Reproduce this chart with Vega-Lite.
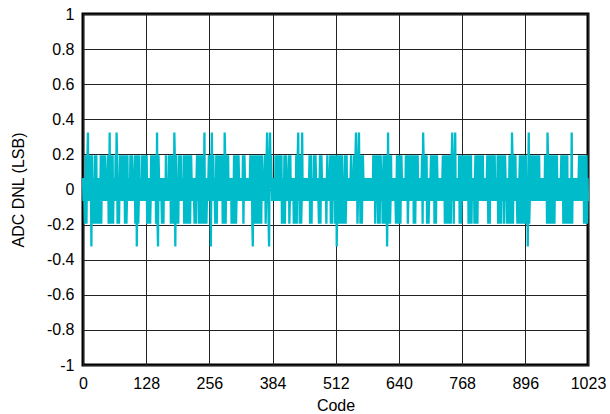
{
"$schema": "https://vega.github.io/schema/vega-lite/v6.json",
"width": 505, "height": 351,
"autosize": {"type": "none"},
"padding": {"left": 83, "top": 14, "right": 22, "bottom": 49},
"background": "white",
"config": {"view": {"stroke": "#000", "strokeWidth": 3}, "font": "Liberation Sans"},
"data": {"values": [
{"c":0,"v":0.065},{"c":1,"v":-0.065},{"c":2,"v":0.065},{"c":3,"v":-0.065},{"c":4,"v":-0.195},{"c":5,"v":-0.065},{"c":6,"v":0.195},{"c":7,"v":-0.195},{"c":8,"v":0.065},{"c":9,"v":0.195},
{"c":10,"v":0.325},{"c":11,"v":-0.065},{"c":12,"v":0.195},{"c":13,"v":-0.065},{"c":14,"v":0.065},{"c":15,"v":0.195},{"c":16,"v":0.065},{"c":17,"v":-0.325},{"c":18,"v":0.195},{"c":19,"v":-0.065},
{"c":20,"v":0.065},{"c":21,"v":-0.065},{"c":22,"v":-0.195},{"c":23,"v":-0.065},{"c":24,"v":0.195},{"c":25,"v":-0.195},{"c":26,"v":0.065},{"c":27,"v":0.195},{"c":28,"v":-0.195},{"c":29,"v":-0.065},
{"c":30,"v":0.065},{"c":31,"v":-0.195},{"c":32,"v":0.065},{"c":33,"v":-0.065},{"c":34,"v":-0.195},{"c":35,"v":-0.065},{"c":36,"v":0.195},{"c":37,"v":-0.195},{"c":38,"v":0.065},{"c":39,"v":0.195},
{"c":40,"v":0.065},{"c":41,"v":-0.065},{"c":42,"v":0.195},{"c":43,"v":-0.065},{"c":44,"v":0.065},{"c":45,"v":0.195},{"c":46,"v":0.065},{"c":47,"v":-0.065},{"c":48,"v":0.065},{"c":49,"v":-0.065},
{"c":50,"v":0.065},{"c":51,"v":0.195},{"c":52,"v":-0.195},{"c":53,"v":-0.065},{"c":54,"v":0.325},{"c":55,"v":-0.195},{"c":56,"v":0.065},{"c":57,"v":0.195},{"c":58,"v":-0.195},{"c":59,"v":-0.065},
{"c":60,"v":0.195},{"c":61,"v":-0.195},{"c":62,"v":0.065},{"c":63,"v":-0.065},{"c":64,"v":0.065},{"c":65,"v":-0.065},{"c":66,"v":0.195},{"c":67,"v":-0.065},{"c":68,"v":0.325},{"c":69,"v":0.195},
{"c":70,"v":-0.195},{"c":71,"v":-0.065},{"c":72,"v":0.065},{"c":73,"v":-0.195},{"c":74,"v":0.065},{"c":75,"v":0.195},{"c":76,"v":0.065},{"c":77,"v":-0.065},{"c":78,"v":0.195},{"c":79,"v":-0.065},
{"c":80,"v":0.065},{"c":81,"v":0.195},{"c":82,"v":0.065},{"c":83,"v":-0.065},{"c":84,"v":0.195},{"c":85,"v":-0.195},{"c":86,"v":0.065},{"c":87,"v":0.195},{"c":88,"v":-0.195},{"c":89,"v":-0.065},
{"c":90,"v":0.195},{"c":91,"v":-0.065},{"c":92,"v":0.065},{"c":93,"v":-0.065},{"c":94,"v":0.065},{"c":95,"v":-0.065},{"c":96,"v":0.195},{"c":97,"v":-0.065},{"c":98,"v":0.065},{"c":99,"v":0.195},
{"c":100,"v":0.065},{"c":101,"v":-0.065},{"c":102,"v":0.065},{"c":103,"v":-0.065},{"c":104,"v":0.065},{"c":105,"v":0.195},{"c":106,"v":-0.195},{"c":107,"v":-0.065},{"c":108,"v":0.195},{"c":109,"v":-0.325},
{"c":110,"v":0.065},{"c":111,"v":0.195},{"c":112,"v":-0.195},{"c":113,"v":-0.065},{"c":114,"v":0.195},{"c":115,"v":-0.065},{"c":116,"v":0.065},{"c":117,"v":-0.065},{"c":118,"v":0.065},{"c":119,"v":-0.065},
{"c":120,"v":0.195},{"c":121,"v":-0.065},{"c":122,"v":0.065},{"c":123,"v":0.195},{"c":124,"v":0.065},{"c":125,"v":-0.065},{"c":126,"v":0.195},{"c":127,"v":-0.065},{"c":128,"v":0.065},{"c":129,"v":0.195},
{"c":130,"v":-0.195},{"c":131,"v":-0.065},{"c":132,"v":0.065},{"c":133,"v":-0.195},{"c":134,"v":0.065},{"c":135,"v":-0.065},{"c":136,"v":-0.195},{"c":137,"v":-0.065},{"c":138,"v":0.195},{"c":139,"v":-0.065},
{"c":140,"v":0.065},{"c":141,"v":0.195},{"c":142,"v":0.065},{"c":143,"v":-0.065},{"c":144,"v":0.195},{"c":145,"v":-0.065},{"c":146,"v":0.065},{"c":147,"v":0.195},{"c":148,"v":-0.195},{"c":149,"v":-0.065},
{"c":150,"v":0.325},{"c":151,"v":-0.195},{"c":152,"v":-0.325},{"c":153,"v":0.195},{"c":154,"v":0.065},{"c":155,"v":-0.065},{"c":156,"v":0.065},{"c":157,"v":-0.065},{"c":158,"v":0.065},{"c":159,"v":-0.065},
{"c":160,"v":-0.195},{"c":161,"v":-0.065},{"c":162,"v":0.065},{"c":163,"v":-0.195},{"c":164,"v":0.065},{"c":165,"v":-0.065},{"c":166,"v":0.065},{"c":167,"v":-0.065},{"c":168,"v":0.195},{"c":169,"v":-0.065},
{"c":170,"v":0.065},{"c":171,"v":-0.065},{"c":172,"v":0.065},{"c":173,"v":-0.065},{"c":174,"v":0.195},{"c":175,"v":-0.065},{"c":176,"v":0.065},{"c":177,"v":0.195},{"c":178,"v":-0.195},{"c":179,"v":-0.065},
{"c":180,"v":0.195},{"c":181,"v":-0.195},{"c":182,"v":0.065},{"c":183,"v":0.195},{"c":184,"v":-0.195},{"c":185,"v":0.325},{"c":186,"v":0.195},{"c":187,"v":-0.325},{"c":188,"v":0.065},{"c":189,"v":0.195},
{"c":190,"v":-0.195},{"c":191,"v":-0.065},{"c":192,"v":0.065},{"c":193,"v":-0.195},{"c":194,"v":0.065},{"c":195,"v":0.195},{"c":196,"v":0.065},{"c":197,"v":-0.065},{"c":198,"v":0.195},{"c":199,"v":-0.065},
{"c":200,"v":0.065},{"c":201,"v":-0.065},{"c":202,"v":0.065},{"c":203,"v":-0.065},{"c":204,"v":0.195},{"c":205,"v":-0.195},{"c":206,"v":0.065},{"c":207,"v":0.195},{"c":208,"v":-0.195},{"c":209,"v":-0.065},
{"c":210,"v":0.195},{"c":211,"v":-0.195},{"c":212,"v":0.065},{"c":213,"v":0.195},{"c":214,"v":-0.195},{"c":215,"v":-0.065},{"c":216,"v":0.195},{"c":217,"v":-0.195},{"c":218,"v":0.065},{"c":219,"v":0.195},
{"c":220,"v":0.065},{"c":221,"v":-0.065},{"c":222,"v":0.065},{"c":223,"v":-0.065},{"c":224,"v":0.065},{"c":225,"v":-0.065},{"c":226,"v":-0.195},{"c":227,"v":-0.065},{"c":228,"v":0.065},{"c":229,"v":-0.195},
{"c":230,"v":0.065},{"c":231,"v":0.195},{"c":232,"v":0.065},{"c":233,"v":-0.065},{"c":234,"v":0.195},{"c":235,"v":-0.195},{"c":236,"v":0.065},{"c":237,"v":0.195},{"c":238,"v":-0.195},{"c":239,"v":-0.065},
{"c":240,"v":0.195},{"c":241,"v":-0.195},{"c":242,"v":0.065},{"c":243,"v":0.195},{"c":244,"v":-0.195},{"c":245,"v":-0.065},{"c":246,"v":0.325},{"c":247,"v":-0.195},{"c":248,"v":0.065},{"c":249,"v":-0.065},
{"c":250,"v":-0.195},{"c":251,"v":-0.065},{"c":252,"v":0.065},{"c":253,"v":-0.065},{"c":254,"v":0.065},{"c":255,"v":0.195},{"c":256,"v":0.065},{"c":257,"v":-0.065},{"c":258,"v":0.195},{"c":259,"v":-0.325},
{"c":260,"v":0.065},{"c":261,"v":0.325},{"c":262,"v":0.065},{"c":263,"v":-0.065},{"c":264,"v":0.195},{"c":265,"v":-0.065},{"c":266,"v":0.065},{"c":267,"v":-0.065},{"c":268,"v":-0.195},{"c":269,"v":-0.065},
{"c":270,"v":0.195},{"c":271,"v":-0.195},{"c":272,"v":0.065},{"c":273,"v":0.195},{"c":274,"v":0.065},{"c":275,"v":-0.065},{"c":276,"v":0.195},{"c":277,"v":-0.065},{"c":278,"v":0.065},{"c":279,"v":0.195},
{"c":280,"v":0.065},{"c":281,"v":-0.065},{"c":282,"v":0.195},{"c":283,"v":-0.195},{"c":284,"v":0.065},{"c":285,"v":0.195},{"c":286,"v":-0.195},{"c":287,"v":0.325},{"c":288,"v":0.195},{"c":289,"v":-0.195},
{"c":290,"v":0.065},{"c":291,"v":0.195},{"c":292,"v":0.065},{"c":293,"v":-0.065},{"c":294,"v":0.195},{"c":295,"v":-0.065},{"c":296,"v":0.065},{"c":297,"v":-0.065},{"c":298,"v":0.065},{"c":299,"v":-0.065},
{"c":300,"v":0.065},{"c":301,"v":-0.195},{"c":302,"v":0.065},{"c":303,"v":-0.065},{"c":304,"v":-0.195},{"c":305,"v":-0.065},{"c":306,"v":0.195},{"c":307,"v":-0.195},{"c":308,"v":0.065},{"c":309,"v":0.195},
{"c":310,"v":-0.195},{"c":311,"v":-0.065},{"c":312,"v":0.195},{"c":313,"v":-0.065},{"c":314,"v":0.065},{"c":315,"v":0.195},{"c":316,"v":0.065},{"c":317,"v":-0.065},{"c":318,"v":0.065},{"c":319,"v":-0.065},
{"c":320,"v":0.065},{"c":321,"v":-0.065},{"c":322,"v":0.065},{"c":323,"v":-0.065},{"c":324,"v":0.195},{"c":325,"v":-0.195},{"c":326,"v":0.065},{"c":327,"v":0.195},{"c":328,"v":0.065},{"c":329,"v":-0.065},
{"c":330,"v":0.065},{"c":331,"v":-0.065},{"c":332,"v":0.065},{"c":333,"v":-0.065},{"c":334,"v":0.065},{"c":335,"v":-0.065},{"c":336,"v":0.065},{"c":337,"v":-0.065},{"c":338,"v":0.065},{"c":339,"v":0.195},
{"c":340,"v":0.065},{"c":341,"v":-0.065},{"c":342,"v":0.195},{"c":343,"v":-0.195},{"c":344,"v":-0.325},{"c":345,"v":0.195},{"c":346,"v":-0.195},{"c":347,"v":-0.065},{"c":348,"v":0.195},{"c":349,"v":-0.195},
{"c":350,"v":0.065},{"c":351,"v":0.195},{"c":352,"v":-0.195},{"c":353,"v":-0.065},{"c":354,"v":0.195},{"c":355,"v":-0.195},{"c":356,"v":0.065},{"c":357,"v":0.195},{"c":358,"v":-0.195},{"c":359,"v":-0.065},
{"c":360,"v":0.195},{"c":361,"v":-0.195},{"c":362,"v":0.065},{"c":363,"v":0.195},{"c":364,"v":0.065},{"c":365,"v":-0.065},{"c":366,"v":0.065},{"c":367,"v":-0.065},{"c":368,"v":0.065},{"c":369,"v":0.195},
{"c":370,"v":-0.195},{"c":371,"v":-0.065},{"c":372,"v":0.195},{"c":373,"v":0.325},{"c":374,"v":0.065},{"c":375,"v":0.195},{"c":376,"v":-0.195},{"c":377,"v":-0.325},{"c":378,"v":0.195},{"c":379,"v":0.325},
{"c":380,"v":0.065},{"c":381,"v":0.195},{"c":382,"v":0.065},{"c":383,"v":-0.065},{"c":384,"v":0.065},{"c":385,"v":-0.065},{"c":386,"v":0.065},{"c":387,"v":-0.065},{"c":388,"v":0.065},{"c":389,"v":-0.065},
{"c":390,"v":0.195},{"c":391,"v":-0.065},{"c":392,"v":0.065},{"c":393,"v":0.195},{"c":394,"v":0.065},{"c":395,"v":-0.065},{"c":396,"v":0.195},{"c":397,"v":-0.065},{"c":398,"v":0.065},{"c":399,"v":0.195},
{"c":400,"v":0.065},{"c":401,"v":-0.065},{"c":402,"v":0.195},{"c":403,"v":-0.195},{"c":404,"v":0.065},{"c":405,"v":-0.065},{"c":406,"v":-0.195},{"c":407,"v":-0.065},{"c":408,"v":0.195},{"c":409,"v":-0.195},
{"c":410,"v":0.065},{"c":411,"v":0.195},{"c":412,"v":0.065},{"c":413,"v":-0.065},{"c":414,"v":0.065},{"c":415,"v":-0.065},{"c":416,"v":0.065},{"c":417,"v":0.195},{"c":418,"v":-0.195},{"c":419,"v":-0.065},
{"c":420,"v":0.195},{"c":421,"v":-0.065},{"c":422,"v":0.065},{"c":423,"v":-0.065},{"c":424,"v":0.065},{"c":425,"v":-0.065},{"c":426,"v":0.065},{"c":427,"v":-0.195},{"c":428,"v":0.065},{"c":429,"v":-0.065},
{"c":430,"v":-0.195},{"c":431,"v":-0.065},{"c":432,"v":0.195},{"c":433,"v":-0.195},{"c":434,"v":0.065},{"c":435,"v":0.195},{"c":436,"v":0.325},{"c":437,"v":-0.065},{"c":438,"v":0.195},{"c":439,"v":-0.195},
{"c":440,"v":0.065},{"c":441,"v":0.195},{"c":442,"v":-0.195},{"c":443,"v":-0.065},{"c":444,"v":0.325},{"c":445,"v":-0.065},{"c":446,"v":0.065},{"c":447,"v":-0.065},{"c":448,"v":0.065},{"c":449,"v":-0.065},
{"c":450,"v":0.065},{"c":451,"v":-0.065},{"c":452,"v":0.065},{"c":453,"v":-0.065},{"c":454,"v":0.065},{"c":455,"v":-0.065},{"c":456,"v":0.065},{"c":457,"v":-0.065},{"c":458,"v":0.065},{"c":459,"v":0.195},
{"c":460,"v":-0.195},{"c":461,"v":-0.065},{"c":462,"v":0.195},{"c":463,"v":-0.195},{"c":464,"v":0.065},{"c":465,"v":-0.065},{"c":466,"v":0.065},{"c":467,"v":-0.065},{"c":468,"v":0.195},{"c":469,"v":-0.065},
{"c":470,"v":0.065},{"c":471,"v":0.195},{"c":472,"v":0.065},{"c":473,"v":-0.065},{"c":474,"v":0.065},{"c":475,"v":-0.065},{"c":476,"v":0.065},{"c":477,"v":-0.065},{"c":478,"v":-0.195},{"c":479,"v":-0.065},
{"c":480,"v":0.195},{"c":481,"v":-0.195},{"c":482,"v":0.065},{"c":483,"v":0.195},{"c":484,"v":0.065},{"c":485,"v":-0.065},{"c":486,"v":0.065},{"c":487,"v":-0.065},{"c":488,"v":0.065},{"c":489,"v":-0.065},
{"c":490,"v":0.065},{"c":491,"v":-0.065},{"c":492,"v":0.065},{"c":493,"v":-0.195},{"c":494,"v":0.065},{"c":495,"v":0.195},{"c":496,"v":0.065},{"c":497,"v":-0.065},{"c":498,"v":0.065},{"c":499,"v":-0.065},
{"c":500,"v":0.065},{"c":501,"v":0.195},{"c":502,"v":-0.195},{"c":503,"v":-0.065},{"c":504,"v":0.195},{"c":505,"v":-0.195},{"c":506,"v":0.065},{"c":507,"v":0.195},{"c":508,"v":0.065},{"c":509,"v":-0.065},
{"c":510,"v":0.195},{"c":511,"v":-0.195},{"c":512,"v":0.065},{"c":513,"v":0.195},{"c":514,"v":-0.325},{"c":515,"v":-0.065},{"c":516,"v":0.195},{"c":517,"v":-0.195},{"c":518,"v":0.065},{"c":519,"v":0.195},
{"c":520,"v":-0.195},{"c":521,"v":-0.065},{"c":522,"v":0.195},{"c":523,"v":-0.195},{"c":524,"v":0.065},{"c":525,"v":0.195},{"c":526,"v":-0.195},{"c":527,"v":-0.065},{"c":528,"v":0.065},{"c":529,"v":-0.195},
{"c":530,"v":0.065},{"c":531,"v":0.195},{"c":532,"v":-0.195},{"c":533,"v":-0.065},{"c":534,"v":0.195},{"c":535,"v":-0.065},{"c":536,"v":0.065},{"c":537,"v":-0.065},{"c":538,"v":0.065},{"c":539,"v":-0.065},
{"c":540,"v":0.065},{"c":541,"v":-0.065},{"c":542,"v":0.065},{"c":543,"v":0.195},{"c":544,"v":0.065},{"c":545,"v":-0.065},{"c":546,"v":0.065},{"c":547,"v":-0.065},{"c":548,"v":0.065},{"c":549,"v":0.195},
{"c":550,"v":0.065},{"c":551,"v":-0.065},{"c":552,"v":0.195},{"c":553,"v":0.325},{"c":554,"v":0.065},{"c":555,"v":0.195},{"c":556,"v":-0.195},{"c":557,"v":-0.065},{"c":558,"v":0.195},{"c":559,"v":0.325},
{"c":560,"v":0.065},{"c":561,"v":0.195},{"c":562,"v":-0.195},{"c":563,"v":-0.065},{"c":564,"v":0.195},{"c":565,"v":-0.195},{"c":566,"v":0.065},{"c":567,"v":0.195},{"c":568,"v":0.065},{"c":569,"v":-0.065},
{"c":570,"v":0.065},{"c":571,"v":-0.065},{"c":572,"v":0.065},{"c":573,"v":-0.065},{"c":574,"v":0.065},{"c":575,"v":-0.065},{"c":576,"v":0.065},{"c":577,"v":-0.065},{"c":578,"v":0.065},{"c":579,"v":-0.065},
{"c":580,"v":0.065},{"c":581,"v":-0.065},{"c":582,"v":0.065},{"c":583,"v":-0.065},{"c":584,"v":0.065},{"c":585,"v":-0.065},{"c":586,"v":0.065},{"c":587,"v":-0.065},{"c":588,"v":0.195},{"c":589,"v":-0.065},
{"c":590,"v":0.065},{"c":591,"v":0.195},{"c":592,"v":-0.195},{"c":593,"v":-0.065},{"c":594,"v":0.195},{"c":595,"v":-0.065},{"c":596,"v":0.065},{"c":597,"v":0.195},{"c":598,"v":-0.195},{"c":599,"v":-0.065},
{"c":600,"v":0.195},{"c":601,"v":-0.195},{"c":602,"v":0.065},{"c":603,"v":0.195},{"c":604,"v":0.065},{"c":605,"v":-0.065},{"c":606,"v":0.065},{"c":607,"v":-0.195},{"c":608,"v":0.065},{"c":609,"v":0.195},
{"c":610,"v":-0.195},{"c":611,"v":-0.065},{"c":612,"v":0.195},{"c":613,"v":-0.195},{"c":614,"v":0.065},{"c":615,"v":0.195},{"c":616,"v":-0.325},{"c":617,"v":-0.065},{"c":618,"v":0.325},{"c":619,"v":-0.195},
{"c":620,"v":0.065},{"c":621,"v":0.195},{"c":622,"v":-0.195},{"c":623,"v":-0.065},{"c":624,"v":0.195},{"c":625,"v":-0.065},{"c":626,"v":0.065},{"c":627,"v":-0.065},{"c":628,"v":0.065},{"c":629,"v":-0.065},
{"c":630,"v":0.065},{"c":631,"v":-0.065},{"c":632,"v":0.065},{"c":633,"v":-0.065},{"c":634,"v":-0.195},{"c":635,"v":-0.065},{"c":636,"v":0.195},{"c":637,"v":-0.195},{"c":638,"v":0.065},{"c":639,"v":0.195},
{"c":640,"v":-0.195},{"c":641,"v":-0.065},{"c":642,"v":0.195},{"c":643,"v":-0.195},{"c":644,"v":0.065},{"c":645,"v":0.195},{"c":646,"v":0.065},{"c":647,"v":-0.065},{"c":648,"v":0.065},{"c":649,"v":-0.065},
{"c":650,"v":0.065},{"c":651,"v":-0.065},{"c":652,"v":0.065},{"c":653,"v":-0.065},{"c":654,"v":0.195},{"c":655,"v":-0.065},{"c":656,"v":0.065},{"c":657,"v":0.195},{"c":658,"v":-0.195},{"c":659,"v":-0.065},
{"c":660,"v":0.195},{"c":661,"v":-0.065},{"c":662,"v":0.065},{"c":663,"v":0.195},{"c":664,"v":0.065},{"c":665,"v":-0.065},{"c":666,"v":0.195},{"c":667,"v":-0.065},{"c":668,"v":0.065},{"c":669,"v":0.195},
{"c":670,"v":-0.195},{"c":671,"v":-0.065},{"c":672,"v":0.195},{"c":673,"v":-0.195},{"c":674,"v":0.065},{"c":675,"v":0.195},{"c":676,"v":0.065},{"c":677,"v":-0.065},{"c":678,"v":0.195},{"c":679,"v":-0.065},
{"c":680,"v":0.065},{"c":681,"v":-0.065},{"c":682,"v":0.065},{"c":683,"v":-0.065},{"c":684,"v":0.065},{"c":685,"v":-0.065},{"c":686,"v":0.065},{"c":687,"v":0.195},{"c":688,"v":-0.195},{"c":689,"v":0.325},
{"c":690,"v":0.195},{"c":691,"v":-0.065},{"c":692,"v":0.065},{"c":693,"v":0.195},{"c":694,"v":0.065},{"c":695,"v":-0.065},{"c":696,"v":0.195},{"c":697,"v":-0.195},{"c":698,"v":0.065},{"c":699,"v":-0.065},
{"c":700,"v":-0.195},{"c":701,"v":-0.065},{"c":702,"v":0.065},{"c":703,"v":-0.065},{"c":704,"v":0.065},{"c":705,"v":0.195},{"c":706,"v":0.065},{"c":707,"v":-0.065},{"c":708,"v":0.195},{"c":709,"v":-0.065},
{"c":710,"v":0.065},{"c":711,"v":0.195},{"c":712,"v":-0.195},{"c":713,"v":-0.065},{"c":714,"v":0.195},{"c":715,"v":-0.195},{"c":716,"v":0.065},{"c":717,"v":0.195},{"c":718,"v":0.065},{"c":719,"v":-0.065},
{"c":720,"v":0.065},{"c":721,"v":-0.065},{"c":722,"v":0.065},{"c":723,"v":-0.065},{"c":724,"v":0.065},{"c":725,"v":-0.065},{"c":726,"v":0.065},{"c":727,"v":-0.065},{"c":728,"v":0.065},{"c":729,"v":0.195},
{"c":730,"v":0.065},{"c":731,"v":-0.065},{"c":732,"v":0.195},{"c":733,"v":-0.195},{"c":734,"v":0.065},{"c":735,"v":0.195},{"c":736,"v":-0.195},{"c":737,"v":-0.065},{"c":738,"v":0.195},{"c":739,"v":-0.195},
{"c":740,"v":0.065},{"c":741,"v":0.195},{"c":742,"v":-0.195},{"c":743,"v":-0.065},{"c":744,"v":0.195},{"c":745,"v":-0.195},{"c":746,"v":0.065},{"c":747,"v":0.195},{"c":748,"v":0.325},{"c":749,"v":-0.065},
{"c":750,"v":0.195},{"c":751,"v":-0.195},{"c":752,"v":0.065},{"c":753,"v":0.195},{"c":754,"v":0.325},{"c":755,"v":-0.065},{"c":756,"v":0.065},{"c":757,"v":-0.065},{"c":758,"v":0.065},{"c":759,"v":-0.065},
{"c":760,"v":0.065},{"c":761,"v":-0.065},{"c":762,"v":0.195},{"c":763,"v":-0.195},{"c":764,"v":0.065},{"c":765,"v":0.195},{"c":766,"v":-0.195},{"c":767,"v":-0.065},{"c":768,"v":0.195},{"c":769,"v":-0.065},
{"c":770,"v":0.065},{"c":771,"v":0.195},{"c":772,"v":0.065},{"c":773,"v":-0.065},{"c":774,"v":0.195},{"c":775,"v":-0.065},{"c":776,"v":0.065},{"c":777,"v":0.195},{"c":778,"v":0.065},{"c":779,"v":-0.065},
{"c":780,"v":0.195},{"c":781,"v":-0.195},{"c":782,"v":0.065},{"c":783,"v":0.195},{"c":784,"v":-0.195},{"c":785,"v":-0.065},{"c":786,"v":0.195},{"c":787,"v":-0.195},{"c":788,"v":0.065},{"c":789,"v":-0.065},
{"c":790,"v":0.065},{"c":791,"v":-0.065},{"c":792,"v":0.065},{"c":793,"v":-0.195},{"c":794,"v":0.065},{"c":795,"v":0.195},{"c":796,"v":-0.195},{"c":797,"v":-0.065},{"c":798,"v":0.195},{"c":799,"v":-0.195},
{"c":800,"v":0.065},{"c":801,"v":0.195},{"c":802,"v":0.065},{"c":803,"v":-0.065},{"c":804,"v":0.195},{"c":805,"v":-0.065},{"c":806,"v":0.065},{"c":807,"v":0.195},{"c":808,"v":0.065},{"c":809,"v":-0.065},
{"c":810,"v":0.195},{"c":811,"v":-0.065},{"c":812,"v":0.065},{"c":813,"v":-0.065},{"c":814,"v":0.065},{"c":815,"v":-0.065},{"c":816,"v":0.065},{"c":817,"v":-0.065},{"c":818,"v":0.065},{"c":819,"v":0.195},
{"c":820,"v":0.065},{"c":821,"v":-0.195},{"c":822,"v":0.195},{"c":823,"v":-0.065},{"c":824,"v":-0.195},{"c":825,"v":0.195},{"c":826,"v":0.065},{"c":827,"v":-0.065},{"c":828,"v":0.195},{"c":829,"v":-0.065},
{"c":830,"v":0.065},{"c":831,"v":0.195},{"c":832,"v":0.065},{"c":833,"v":-0.065},{"c":834,"v":0.195},{"c":835,"v":-0.065},{"c":836,"v":0.065},{"c":837,"v":-0.065},{"c":838,"v":0.065},{"c":839,"v":-0.065},
{"c":840,"v":0.195},{"c":841,"v":-0.195},{"c":842,"v":0.065},{"c":843,"v":0.195},{"c":844,"v":-0.195},{"c":845,"v":-0.065},{"c":846,"v":0.195},{"c":847,"v":-0.195},{"c":848,"v":0.065},{"c":849,"v":0.195},
{"c":850,"v":0.065},{"c":851,"v":-0.065},{"c":852,"v":0.195},{"c":853,"v":-0.195},{"c":854,"v":0.065},{"c":855,"v":0.195},{"c":856,"v":0.065},{"c":857,"v":-0.065},{"c":858,"v":0.065},{"c":859,"v":-0.195},
{"c":860,"v":0.065},{"c":861,"v":-0.065},{"c":862,"v":-0.195},{"c":863,"v":-0.065},{"c":864,"v":0.195},{"c":865,"v":-0.195},{"c":866,"v":0.065},{"c":867,"v":0.195},{"c":868,"v":-0.195},{"c":869,"v":0.325},
{"c":870,"v":0.195},{"c":871,"v":-0.195},{"c":872,"v":0.065},{"c":873,"v":0.195},{"c":874,"v":0.065},{"c":875,"v":-0.065},{"c":876,"v":0.195},{"c":877,"v":-0.065},{"c":878,"v":0.065},{"c":879,"v":-0.065},
{"c":880,"v":-0.195},{"c":881,"v":-0.065},{"c":882,"v":0.065},{"c":883,"v":-0.195},{"c":884,"v":0.065},{"c":885,"v":0.195},{"c":886,"v":-0.195},{"c":887,"v":-0.065},{"c":888,"v":0.195},{"c":889,"v":-0.195},
{"c":890,"v":0.065},{"c":891,"v":0.195},{"c":892,"v":-0.195},{"c":893,"v":-0.065},{"c":894,"v":0.195},{"c":895,"v":-0.195},{"c":896,"v":0.065},{"c":897,"v":0.195},{"c":898,"v":-0.195},{"c":899,"v":-0.065},
{"c":900,"v":0.065},{"c":901,"v":-0.325},{"c":902,"v":0.065},{"c":903,"v":0.325},{"c":904,"v":-0.195},{"c":905,"v":-0.065},{"c":906,"v":0.195},{"c":907,"v":-0.065},{"c":908,"v":0.065},{"c":909,"v":0.195},
{"c":910,"v":0.065},{"c":911,"v":-0.065},{"c":912,"v":0.195},{"c":913,"v":-0.065},{"c":914,"v":0.065},{"c":915,"v":0.195},{"c":916,"v":0.065},{"c":917,"v":-0.065},{"c":918,"v":0.195},{"c":919,"v":-0.065},
{"c":920,"v":0.065},{"c":921,"v":0.195},{"c":922,"v":0.065},{"c":923,"v":-0.065},{"c":924,"v":0.195},{"c":925,"v":-0.065},{"c":926,"v":0.065},{"c":927,"v":-0.065},{"c":928,"v":0.065},{"c":929,"v":-0.065},
{"c":930,"v":0.065},{"c":931,"v":-0.065},{"c":932,"v":0.065},{"c":933,"v":-0.065},{"c":934,"v":0.065},{"c":935,"v":-0.065},{"c":936,"v":0.195},{"c":937,"v":-0.065},{"c":938,"v":0.065},{"c":939,"v":0.195},
{"c":940,"v":-0.195},{"c":941,"v":0.325},{"c":942,"v":0.195},{"c":943,"v":-0.195},{"c":944,"v":0.065},{"c":945,"v":0.195},{"c":946,"v":-0.195},{"c":947,"v":-0.065},{"c":948,"v":0.195},{"c":949,"v":-0.195},
{"c":950,"v":0.065},{"c":951,"v":0.195},{"c":952,"v":-0.195},{"c":953,"v":-0.065},{"c":954,"v":0.195},{"c":955,"v":-0.195},{"c":956,"v":0.065},{"c":957,"v":0.195},{"c":958,"v":0.065},{"c":959,"v":-0.065},
{"c":960,"v":0.195},{"c":961,"v":-0.065},{"c":962,"v":0.065},{"c":963,"v":-0.065},{"c":964,"v":0.065},{"c":965,"v":-0.065},{"c":966,"v":0.065},{"c":967,"v":-0.065},{"c":968,"v":0.065},{"c":969,"v":0.195},
{"c":970,"v":0.065},{"c":971,"v":-0.065},{"c":972,"v":0.195},{"c":973,"v":-0.195},{"c":974,"v":0.065},{"c":975,"v":0.195},{"c":976,"v":-0.195},{"c":977,"v":-0.065},{"c":978,"v":0.195},{"c":979,"v":-0.195},
{"c":980,"v":0.065},{"c":981,"v":0.195},{"c":982,"v":-0.195},{"c":983,"v":-0.065},{"c":984,"v":0.065},{"c":985,"v":-0.195},{"c":986,"v":0.065},{"c":987,"v":-0.065},{"c":988,"v":-0.195},{"c":989,"v":-0.065},
{"c":990,"v":0.325},{"c":991,"v":-0.195},{"c":992,"v":0.065},{"c":993,"v":-0.065},{"c":994,"v":0.065},{"c":995,"v":-0.065},{"c":996,"v":0.065},{"c":997,"v":-0.065},{"c":998,"v":0.065},{"c":999,"v":-0.065},
{"c":1000,"v":0.065},{"c":1001,"v":-0.065},{"c":1002,"v":0.065},{"c":1003,"v":-0.065},{"c":1004,"v":0.065},{"c":1005,"v":0.195},{"c":1006,"v":0.065},{"c":1007,"v":-0.065},{"c":1008,"v":0.195},{"c":1009,"v":-0.065},
{"c":1010,"v":0.065},{"c":1011,"v":0.195},{"c":1012,"v":0.065},{"c":1013,"v":-0.065},{"c":1014,"v":0.195},{"c":1015,"v":-0.195},{"c":1016,"v":0.065},{"c":1017,"v":0.195},{"c":1018,"v":-0.195},{"c":1019,"v":-0.065},
{"c":1020,"v":0.195},{"c":1021,"v":-0.195},{"c":1022,"v":0.065},{"c":1023,"v":-0.065}
]},
"mark": {"type": "line", "color": "#00bccb", "strokeWidth": 2.3, "strokeJoin": "bevel", "strokeCap": "butt"},
"encoding": {
  "x": {"field": "c", "type": "quantitative",
    "scale": {"domain": [0, 1023], "nice": false, "zero": false},
    "axis": {"values": [0, 128, 256, 384, 512, 640, 768, 896, 1023], "title": "Code",
      "labelExpr": "'' + datum.value",
      "grid": true, "gridColor": "#222", "gridWidth": 1, "gridOpacity": 1,
      "domain": false, "ticks": false, "tickSize": 0, "labelPadding": 10,
      "labelFont": "Liberation Sans", "labelFontSize": 16, "labelColor": "#000",
      "labelFlush": false, "labelOverlap": false,
      "titleFont": "Liberation Sans", "titleFontSize": 16, "titleFontWeight": "normal", "titleColor": "#000",
      "titleY": 45, "titleBaseline": "alphabetic"}},
  "y": {"field": "v", "type": "quantitative",
    "scale": {"domain": [-1, 1], "nice": false, "zero": false},
    "axis": {"values": [-1, -0.8, -0.6, -0.4, -0.2, 0, 0.2, 0.4, 0.6, 0.8, 1], "title": "ADC DNL (LSB)",
      "labelExpr": "replace(format(datum.value, '.1~f'), '\u2212', '-')",
      "grid": true, "gridColor": "#222", "gridWidth": 1, "gridOpacity": 1,
      "domain": false, "ticks": false, "tickSize": 0, "labelPadding": 9,
      "labelFont": "Liberation Sans", "labelFontSize": 16, "labelColor": "#000",
      "labelFlush": false, "labelOverlap": false,
      "titleFont": "Liberation Sans", "titleFontSize": 16, "titleFontWeight": "normal", "titleColor": "#000",
      "titleX": -65, "titleY": 175.5, "titleAngle": -90, "titleAlign": "center", "titleBaseline": "middle"}}
}
}
